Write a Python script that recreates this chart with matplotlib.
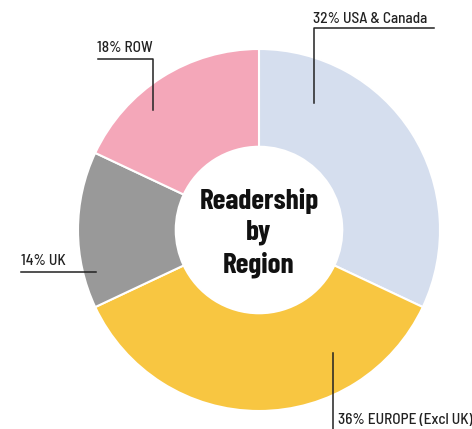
import numpy as np
import matplotlib.pyplot as plt

# data
regions = ['USA & Canada', 'EUROPE (Excl UK)', 'UK', 'ROW']
shares = [32, 36, 14, 18]
colors = ['#d5deee', '#f8c641', '#999999', '#f4a7b9']

plt.rcParams['font.family'] = ['Barlow Semi Condensed', 'DejaVu Sans']

W, H = 472, 429
fig = plt.figure(figsize=(W / 100, H / 100), dpi=100)
ax = fig.add_axes([0, 0, 1, 1])

cx, cy, R = 259, H - 230, 181
ax.pie(shares, colors=colors, startangle=90, counterclock=False,
       center=(cx, cy), radius=R, frame=True,
       wedgeprops=dict(width=R * 0.54, edgecolor='white', linewidth=1.5))
ax.set_xlim(0, W)
ax.set_ylim(0, H)
ax.set_aspect('equal')
ax.axis('off')

ax.text(cx, cy - 3, 'Readership\nby\nRegion', ha='center', va='center',
        fontsize=21, fontweight='bold', linespacing=1.3, color='#111111',
        family=['Barlow Condensed', 'DejaVu Sans'])

lc = '#222222'
lw = 1.1
fs = 11
labels = [f'{s}% {r}' for s, r in zip(shares, regions)]

# USA & Canada
ax.plot([314, 314, 434], [H - 103, H - 28, H - 28], color=lc, lw=lw)
ax.text(313, H - 23, labels[0], ha='left', va='baseline', fontsize=fs,
        color=lc, fontweight='medium')
# Europe
ax.plot([333, 333], [H - 353, 0], color=lc, lw=lw)
ax.text(338, H - 424, labels[1], ha='left', va='baseline', fontsize=fs,
        color=lc, fontweight='medium')
# UK
ax.plot([21, 96], [H - 272, H - 272], color=lc, lw=lw)
ax.text(21, H - 265, labels[2], ha='left', va='baseline', fontsize=fs,
        color=lc, fontweight='medium')
# ROW
ax.plot([98, 153, 153], [H - 59, H - 59, H - 110], color=lc, lw=lw)
ax.text(97, H - 52, labels[3], ha='left', va='baseline', fontsize=fs,
        color=lc, fontweight='medium')

fig.savefig('out.png', dpi=100)
